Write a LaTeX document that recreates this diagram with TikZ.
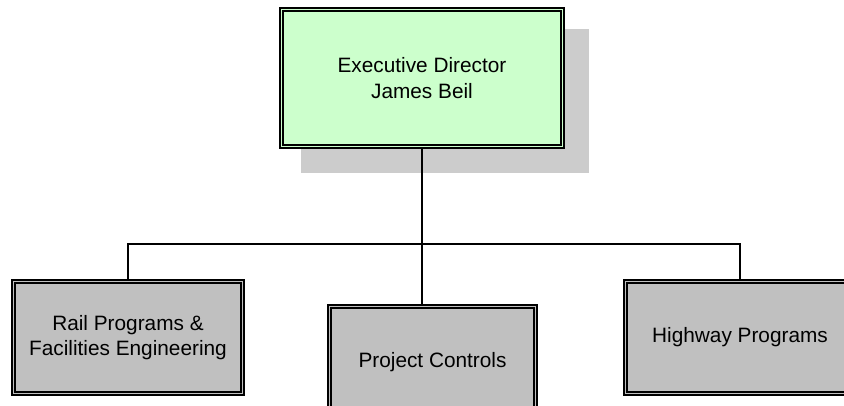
\documentclass[tikz,border=0pt]{standalone}
\usepackage{fontspec}
\setmainfont{Liberation Sans}
\usetikzlibrary{positioning,calc,backgrounds}
\definecolor{boxgreen}{RGB}{204,255,204}
\definecolor{boxgray}{RGB}{192,192,192}
\definecolor{shadegray}{RGB}{204,204,204}

\begin{document}
\begin{tikzpicture}[x=1pt,y=-1pt,
    box/.style={draw,double,double distance=1.8pt,line width=1.7pt,align=center,
      inner sep=0pt,font=\fontsize{20.8pt}{25.5pt}\selectfont},
    chief/.style={box,fill=boxgreen,double=boxgreen,minimum width=281pt,minimum height=137pt},
    dept/.style={box,fill=boxgray,double=boxgray,minimum width=229pt,minimum height=112pt},
    wire/.style={line width=1.8pt}]
    \useasboundingbox (0,0) rectangle (844,406);
    \clip (0,0) rectangle (844,406);

    % director and the three units
    \node[chief] (exec) at (422,78) {Executive Director\\James Beil};
    \node[dept] (rail) at (128,337.5) {Rail Programs \&\\Facilities Engineering};
    \node[dept,minimum width=206pt] (ctrl) at (432.5,362.5) {Project Controls};
    \node[dept] (hwy) at (740,337.5) {Highway Programs};

    % shadow behind the top box
    \begin{scope}[on background layer]
      \fill[shadegray] ($(exec.north west)+(20.6,20.6)$) rectangle ($(exec.south east)+(25.6,25.6)$);
    \end{scope}

    \coordinate (bar) at (0,244);
    \draw[wire] (exec.south) -- (exec.south |- ctrl.north);
    \draw[wire] (rail.north) |- (exec.south |- bar) -| (hwy.north);
  \end{tikzpicture}
\end{document}
